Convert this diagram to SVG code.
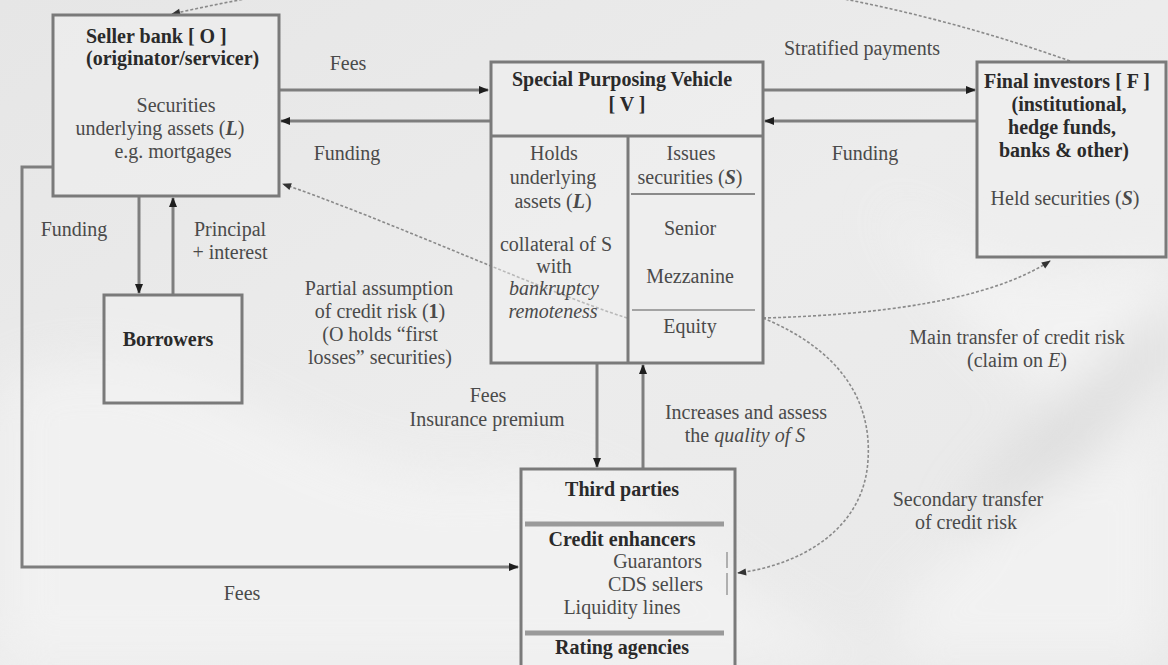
<svg xmlns="http://www.w3.org/2000/svg" width="1168" height="665" viewBox="0 0 1168 665">
<style>
text{font-family:"Liberation Serif","Times New Roman",serif;font-size:20px;fill:#4a4a4a}
.b{font-weight:bold;fill:#2a2a2a}
.i{font-style:italic}
.c{text-anchor:middle}
.e{text-anchor:end}
.box{fill:#f2f2f2;fill-opacity:0.45;stroke:#7a7a7a;stroke-width:3}
.sep{stroke:#7a7a7a;stroke-width:3;fill:none}
.sep2{stroke:#9a9a9a;stroke-width:5;fill:none}
.ln{stroke:#7e7e7e;stroke-width:3;fill:none}
.ds{stroke:#8a8a8a;stroke-width:1.6;stroke-dasharray:3 2;fill:none}
</style>
<defs>
<linearGradient id="bg" x1="0" y1="0" x2="1" y2="1">
<stop offset="0" stop-color="#e6e6e6"/>
<stop offset="0.5" stop-color="#ececec"/>
<stop offset="1" stop-color="#e8e8e8"/>
</linearGradient>
<filter id="blur"><feGaussianBlur stdDeviation="25"/></filter>
<marker id="ah" viewBox="0 0 10 10" refX="9" refY="5" markerWidth="11" markerHeight="10" markerUnits="userSpaceOnUse" orient="auto"><path d="M0,1 L10,5 L0,9 z" fill="#1e1e1e"/></marker>
<marker id="ahs" viewBox="0 0 10 10" refX="9" refY="5" markerWidth="10" markerHeight="9" markerUnits="userSpaceOnUse" orient="auto"><path d="M0,1 L10,5 L0,9 z" fill="#333"/></marker>
</defs>
<rect width="1168" height="665" fill="url(#bg)"/>
<g filter="url(#blur)" opacity="0.7">
<path d="M0,380 C200,300 300,500 500,470 C650,450 700,600 900,665 L0,665 z" fill="#f4f4f4"/>
<path d="M880,200 C960,260 1050,300 1168,250 L1168,420 C1080,440 980,360 880,200 z" fill="#f6f6f6"/>
<path d="M960,520 C1030,420 1100,380 1168,300 L1168,360 C1110,430 1050,480 1000,560 z" fill="#d6d6d6"/>
<path d="M900,600 C1000,500 1100,450 1168,420 L1168,665 L900,665 z" fill="#f5f5f5"/>
</g>

<g id="connectors">
<path class="ln" d="M279,90 H488" marker-end="url(#ah)"/>
<path class="ln" d="M490,121 H281" marker-end="url(#ah)"/>
<path class="ln" d="M763,90 H975" marker-end="url(#ah)"/>
<path class="ln" d="M977,121 H765" marker-end="url(#ah)"/>
<path class="ln" d="M139,196 V293" marker-end="url(#ah)"/>
<path class="ln" d="M173,295 V198" marker-end="url(#ah)"/>
<path class="ln" d="M53,167 H22 V567 H518" marker-end="url(#ah)"/>
<path class="ln" d="M597,363 V467" marker-end="url(#ah)"/>
<path class="ln" d="M643,469 V365" marker-end="url(#ah)"/>
<path class="ds" d="M1070,61 Q640,-92 172,14" marker-end="url(#ahs)"/>
<path class="ds" d="M627,318 C540,290 400,225 283,184" marker-end="url(#ahs)"/>
<path class="ds" d="M763,318 C880,315 990,300 1050,261" marker-end="url(#ahs)"/>
<path class="ds" d="M763,318 C840,350 872,400 868,460 C864,530 800,565 738,573" marker-end="url(#ahs)"/>
</g>

<g id="seller-bank">
<rect class="box" x="53" y="15" width="226" height="181"/>
<text class="b" x="86" y="43">Seller bank [ O ]</text>
<text class="b" x="86" y="65">(originator/servicer)</text>
<text class="c" x="176" y="112">Securities</text>
<text class="c" x="160" y="135">underlying assets (<tspan class="i" font-weight="bold">L</tspan>)</text>
<text class="c" x="173" y="158">e.g. mortgages</text>
</g>

<g id="borrowers">
<rect class="box" x="104" y="295" width="138" height="108"/>
<text class="b c" x="168" y="346">Borrowers</text>
</g>

<g id="spv">
<rect class="box" x="491" y="62" width="272" height="301"/>
<line class="sep" x1="491" y1="136" x2="763" y2="136"/>
<line class="sep" x1="628" y1="136" x2="628" y2="363"/>
<line x1="631" y1="194" x2="755" y2="194" stroke="#8a8a8a" stroke-width="2"/>
<line x1="632" y1="310" x2="755" y2="310" stroke="#8a8a8a" stroke-width="1.5"/>
<text class="b c" x="622" y="86">Special Purposing Vehicle</text>
<text class="b c" x="627" y="111">[ V ]</text>
<text class="c" x="554" y="160">Holds</text>
<text class="c" x="553" y="184">underlying</text>
<text class="c" x="553" y="208">assets (<tspan class="i" font-weight="bold">L</tspan>)</text>
<text class="c" x="556" y="251">collateral of S</text>
<text class="c" x="554" y="273">with</text>
<text class="c i" x="554" y="295">bankruptcy</text>
<text class="c i" x="553" y="318">remoteness</text>
<text class="c" x="691" y="160">Issues</text>
<text class="c" x="690" y="184">securities (<tspan class="i" font-weight="bold">S</tspan>)</text>
<text class="c" x="690" y="235">Senior</text>
<text class="c" x="690" y="283">Mezzanine</text>
<text class="c" x="690" y="333">Equity</text>
</g>

<g id="final-investors">
<rect class="box" x="977" y="62" width="189" height="195"/>
<text class="b c" x="1067" y="88">Final investors [ F ]</text>
<text class="b c" x="1069" y="111">(institutional,</text>
<text class="b c" x="1062" y="134">hedge funds,</text>
<text class="b c" x="1064" y="157">banks &amp; other)</text>
<text class="c" x="1065" y="205">Held securities (<tspan class="i" font-weight="bold">S</tspan>)</text>
</g>

<g id="third-parties">
<rect class="box" x="521" y="469" width="214" height="200"/>
<line class="sep2" x1="525" y1="524" x2="724" y2="524"/>
<line class="sep2" x1="525" y1="633" x2="724" y2="633"/>
<line x1="727" y1="552" x2="727" y2="568" stroke="#9a9a9a" stroke-width="1.5"/>
<line x1="727" y1="573" x2="727" y2="595" stroke="#9a9a9a" stroke-width="1.5"/>
<text class="b c" x="622" y="496">Third parties</text>
<text class="b c" x="622" y="546">Credit enhancers</text>
<text class="e" x="702" y="568">Guarantors</text>
<text class="e" x="703" y="591">CDS sellers</text>
<text class="c" x="622" y="614">Liquidity lines</text>
<text class="b c" x="622" y="654">Rating agencies</text>
</g>

<g id="labels">
<text class="c" x="348" y="70">Fees</text>
<text class="c" x="347" y="160">Funding</text>
<text class="c" x="862" y="55">Stratified payments</text>
<text class="c" x="865" y="160">Funding</text>
<text class="c" x="74" y="236">Funding</text>
<text class="c" x="230" y="236">Principal</text>
<text class="c" x="230" y="259">+ interest</text>
<text class="c" x="379" y="295">Partial assumption</text>
<text class="c" x="380" y="318">of credit risk (<tspan font-weight="bold">1</tspan>)</text>
<text class="c" x="380" y="341">(O holds “first</text>
<text class="c" x="380" y="364">losses” securities)</text>
<text class="c" x="488" y="402">Fees</text>
<text class="c" x="487" y="426">Insurance premium</text>
<text class="c" x="746" y="419">Increases and assess</text>
<text class="c" x="745" y="442">the <tspan class="i">quality of S</tspan></text>
<text class="c" x="1017" y="344">Main transfer of credit risk</text>
<text class="c" x="1017" y="367">(claim on <tspan class="i">E</tspan>)</text>
<text class="c" x="968" y="506">Secondary transfer</text>
<text class="c" x="966" y="529">of credit risk</text>
<text class="c" x="242" y="600">Fees</text>
</g>
</svg>
